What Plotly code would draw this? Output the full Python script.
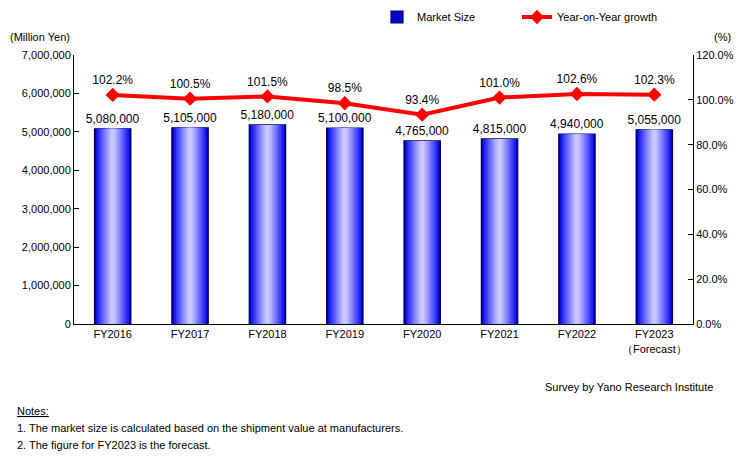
import plotly.graph_objects as go

# --- data -------------------------------------------------------------------
fiscal_years = ["FY2016", "FY2017", "FY2018", "FY2019", "FY2020",
                "FY2021", "FY2022", "FY2023<br>（Forecast）"]
market_size = [5080000, 5105000, 5180000, 5100000, 4765000,
               4815000, 4940000, 5055000]
yoy_growth = [102.2, 100.5, 101.5, 98.5, 93.4, 101.0, 102.6, 102.3]

left_ticks = [0, 1000000, 2000000, 3000000, 4000000, 5000000, 6000000, 7000000]
right_ticks = [0, 20, 40, 60, 80, 100, 120]

FONT = "Liberation Sans, Arial, sans-serif"

fig = go.Figure()

# bars: layered widths to fake the blue -> white gradient fill
layers = [
    (0.47, "#0000c8", "#000060"),
    (0.42, "#2020f0", None),
    (0.36, "#3d3dfa", None),
    (0.30, "#5a5aff", None),
    (0.24, "#7878ff", None),
    (0.18, "#9595ff", None),
    (0.12, "#b0b0ff", None),
    (0.06, "#c8c8ff", None),
]
for i, (w, col, edge) in enumerate(layers):
    fig.add_trace(go.Bar(
        x=fiscal_years,
        y=market_size,
        width=w,
        marker=dict(color=col,
                    line=dict(color=edge or col, width=1.2 if edge else 0)),
        name="Market Size",
        showlegend=(i == 0),
        text=[f"{v:,}" for v in market_size] if i == 0 else None,
        textposition="outside" if i == 0 else "none",
        constraintext="none",
        textfont=dict(family=FONT, size=12, color="#000000"),
        cliponaxis=False,
        hoverinfo="skip" if i else None,
    ))

fig.add_trace(go.Scatter(
    x=fiscal_years,
    y=yoy_growth,
    yaxis="y2",
    mode="lines+markers+text",
    name="Year-on-Year growth",
    line=dict(color="#ff0000", width=4),
    marker=dict(symbol="diamond", size=11, color="#ff0000"),
    text=[f"{v:.1f}%" for v in yoy_growth],
    textposition="top center",
    textfont=dict(family=FONT, size=12, color="#000000"),
    cliponaxis=False,
))

fig.update_layout(
    width=756,
    height=460,
    paper_bgcolor="white",
    plot_bgcolor="white",
    barmode="overlay",
    font=dict(family=FONT, size=11, color="#000000"),
    margin=dict(l=74, r=63, t=55, b=136, autoexpand=False),
    legend=dict(
        orientation="h",
        xref="paper", yref="container",
        x=0.4895, y=(460 - 17) / 460,
        xanchor="left", yanchor="middle",
        font=dict(size=11),
        entrywidth=95,
        itemwidth=30,
        traceorder="normal",
    ),
    xaxis=dict(
        showline=True, linecolor="#000000", linewidth=1,
        ticks="", tickfont=dict(size=11),
        showgrid=False, automargin=False,
    ),
    yaxis=dict(
        range=[0, 7000000],
        tickvals=left_ticks,
        tickformat=",",
        showline=True, linecolor="#000000", linewidth=1,
        ticks="inside", ticklen=5, tickcolor="#000000",
        showgrid=False, zeroline=False, automargin=False,
        tickfont=dict(size=11),
    ),
    yaxis2=dict(
        overlaying="y", side="right",
        range=[0, 120],
        tickvals=right_ticks,
        ticktext=[f"{v:.1f}%" for v in right_ticks],
        showline=True, linecolor="#000000", linewidth=1,
        ticks="inside", ticklen=5, tickcolor="#000000",
        showgrid=False, zeroline=False, automargin=False,
        tickfont=dict(size=11),
    ),
)

# unit labels and notes
annos = [
    dict(text="(Million Yen)", x=8, y=37, xanchor="left"),
    dict(text="(%)", x=712, y=37, xanchor="left"),
    dict(text="Survey by Yano Research Institute", x=715, y=387, xanchor="right"),
    dict(text="<u>Notes:</u>", x=15, y=411, xanchor="left"),
    dict(text="1. The market size is calculated based on the shipment value at manufacturers.",
         x=15, y=428, xanchor="left"),
    dict(text="2. The figure for FY2023 is the forecast.", x=15, y=445, xanchor="left"),
]
for a in annos:
    fig.add_annotation(
        text=a["text"],
        xref="paper", yref="paper",
        x=(a["x"] - 74) / 619,
        y=(324 - a["y"]) / 269,
        xanchor=a["xanchor"], yanchor="middle",
        showarrow=False,
        font=dict(family=FONT, size=11, color="#000000"),
    )

# page body has a default 8px margin; drop it so the figure sits at 0,0
fig.write_html(
    "out.html",
    config={"displayModeBar": False},
    post_script="document.body.style.margin='0';",
)
